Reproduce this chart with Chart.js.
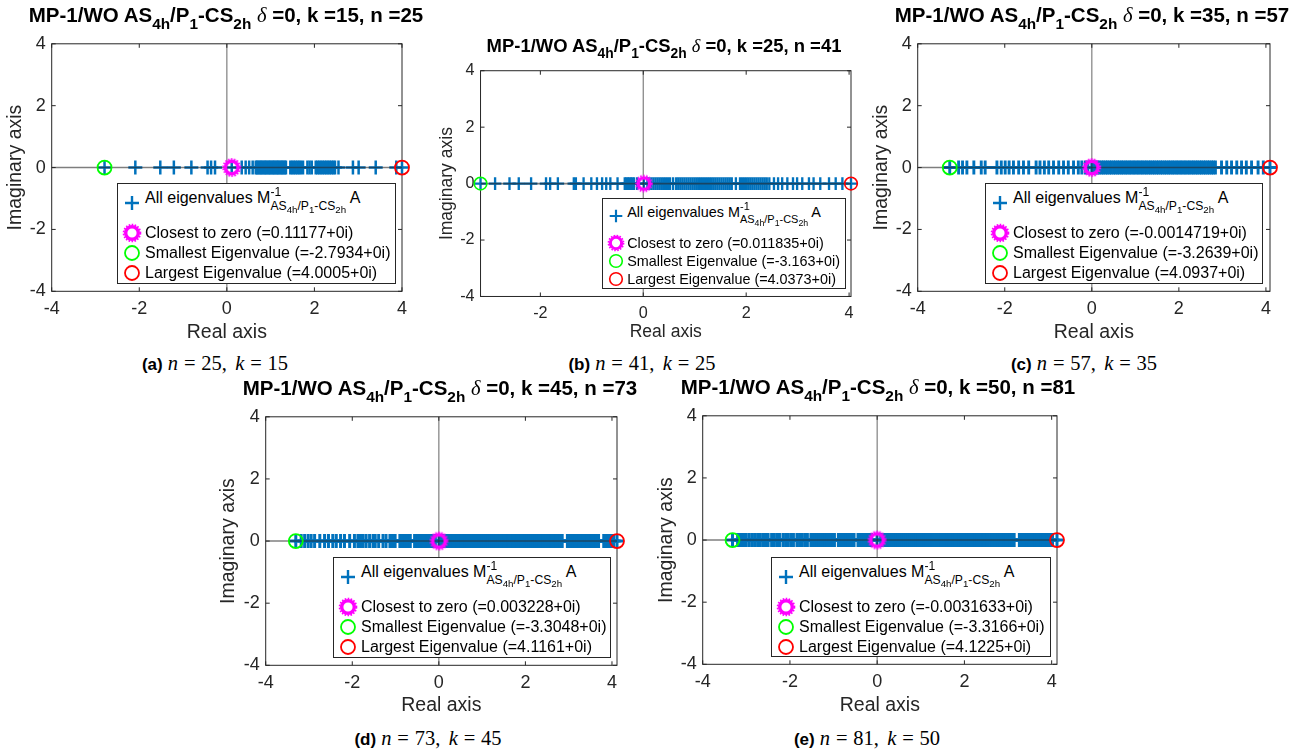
<!doctype html>
<html lang="en">
<head>
<meta charset="utf-8">
<title>Eigenvalues of the preconditioned operator</title>
<script src="https://cdn.jsdelivr.net/npm/chart.js"></script>
<style>
  body { margin: 0; background: #fff; font-family: "Liberation Sans", Arial, sans-serif; color: #000; }
  #fig { position: relative; width: 1307px; height: 756px; overflow: hidden; }
  #fig canvas { position: absolute; }
  .ttl, .cap { position: absolute; white-space: nowrap; transform: translate(-50%, -50%); line-height: 1; }
  .ttl { font-weight: bold; color: #000; }
  .ttl sub { font-size: 0.75em; vertical-align: -0.45em; line-height: 0; }
  .ttl .d { font-family: "Liberation Serif", serif; font-style: italic; font-weight: normal; }
  .cap { font-family: "Liberation Serif", serif; font-size: 20.5px; }
  .cap b { font-family: "Liberation Sans", sans-serif; font-size: 17px; margin-right: 0.3em; }
  .cap .eq { display: inline-block; width: 0.7em; text-align: center; margin: 0 0.22em; }
  .cap .cm { margin-right: 0.4em; }
  .leg { position: absolute; background: #fff; border: 1px solid #262626; box-sizing: border-box; white-space: nowrap; }
  .leg .row { position: absolute; }
  .ss { position: relative; display: inline-block; }
  .lo { font-size: 0.76em; position: relative; top: 0.55em; }
  .lo2 { font-size: 0.8em; position: relative; top: 0.35em; }
  .hi { position: absolute; left: 0; top: -0.5em; font-size: 0.76em; }
</style>
</head>
<body>
<div id="fig"></div>
<script>
// one entry per panel
const panelTags = ['a', 'b', 'c', 'd', 'e'];
const kVals = [15, 25, 35, 45, 50];
const nVals = [25, 41, 57, 73, 81];
const deltaVals = [0, 0, 0, 0, 0];
const closestVals = [0.11177, 0.011835, -0.0014719, 0.003228, -0.0031633];
const smallestVals = [-2.7934, -3.163, -3.2639, -3.3048, -3.3166];
const largestVals = [4.0005, 4.0373, 4.0937, 4.1161, 4.1225];
const xMins = [-4, -3.163, -4, -4, -4];
const xTickVals = [-4, -2, 0, 2, 4];
const yTickVals = [-4, -2, 0, 2, 4];

// remaining (real) eigenvalues of each spectrum, imaginary part 0
const eigA = [-2.09, -1.52, -1.21, -0.81, -0.44, -0.36, -0.27,
  0.34, 0.43, 0.51, 0.59, 0.66, 0.69, 0.72, 0.75, 0.78, 0.81, 0.84, 0.87, 0.90, 0.93, 0.96, 0.99,
  1.02, 1.05, 1.08, 1.11, 1.14, 1.17, 1.20, 1.23, 1.26, 1.29, 1.32, 1.35,
  1.45, 1.49, 1.53, 1.57, 1.61, 1.65, 1.69, 1.74, 1.84, 1.89, 1.94,
  2.03, 2.07, 2.11, 2.15, 2.19, 2.23, 2.27, 2.31, 2.35, 2.39, 2.43, 2.47, 2.55, 2.88, 3.01, 3.40, 3.87];
const eigB = [-2.88, -2.60, -2.42, -2.18, -1.89, -1.81, -1.66, -1.35, -1.31, -1.16, -1.01, -0.90, -0.80, -0.72, -0.64, -0.50,
  -0.36, -0.33, -0.30, -0.27, -0.24, -0.21, -0.18, -0.12,
  0.08, 0.12, 0.16, 0.20, 0.24, 0.28, 0.32, 0.36, 0.40, 0.44, 0.48, 0.52, 0.58, 0.64, 0.68, 0.72, 0.76, 0.80,
  0.84, 0.88, 0.92, 0.96, 1.00, 1.04, 1.08, 1.12, 1.16, 1.20, 1.24, 1.28, 1.32, 1.36, 1.40, 1.44, 1.48, 1.52,
  1.56, 1.60, 1.64, 1.68, 1.72, 1.80, 1.88, 1.92, 1.96, 2.00, 2.04, 2.08, 2.12, 2.16, 2.20, 2.24, 2.28, 2.32,
  2.36, 2.40, 2.45, 2.54, 2.62, 2.70, 2.80, 2.91, 2.99, 3.09, 3.22, 3.31, 3.44, 3.61, 3.74, 3.87];
const eigC = [-3.06, -2.97, -2.87, -2.71, -2.54, -2.45, -2.18, -2.08, -1.99, -1.90, -1.80, -1.68, -1.57, -1.45,
  -1.28, -1.19, -1.09, -0.99, -0.88, -0.76, -0.65, -0.54, -0.42, -0.31, -0.23, -0.15, -0.09,
  0.05, 0.09, 0.14, 0.18, 0.23, 0.27, 0.32, 0.36, 0.41, 0.45, 0.50, 0.54, 0.59, 0.63, 0.68, 0.72, 0.77, 0.81,
  0.86, 0.90, 0.95, 0.99, 1.04, 1.08, 1.13, 1.17, 1.22, 1.26, 1.31, 1.35, 1.40, 1.44, 1.49, 1.53, 1.58, 1.62,
  1.67, 1.71, 1.76, 1.80, 1.85, 1.89, 1.94, 1.98, 2.03, 2.07, 2.12, 2.16, 2.21, 2.25, 2.30, 2.34, 2.39, 2.43,
  2.48, 2.52, 2.57, 2.61, 2.66, 2.70, 2.75, 2.79, 2.84, 2.98, 3.10, 3.21, 3.33, 3.44, 3.55, 3.67, 3.82, 3.94];
const eigD = [-3.18, -3.10, -3.02, -2.95, -2.87, -2.75, -2.64, -2.55, -2.45, -2.37, -2.27, -2.18, -2.06, -1.95,
  -1.87, -1.81, -1.75, -1.68, -1.60, -1.52, -1.47, -1.39, -1.29, -1.22, -1.13, -1.09, -1.05, -1.01, -0.90,
  -0.86, -0.82, -0.78, -0.74, -0.70, -0.66, -0.56, -0.52, -0.48, -0.44, -0.40, -0.36, -0.32, -0.28, -0.24,
  -0.20, -0.16, -0.12, -0.08,
  0.06, 0.10, 0.15, 0.19, 0.24, 0.28, 0.33, 0.37, 0.42, 0.46, 0.51, 0.55, 0.60, 0.64, 0.69, 0.73, 0.78, 0.82,
  0.87, 0.91, 0.96, 1.00, 1.05, 1.09, 1.14, 1.18, 1.23, 1.27, 1.32, 1.36, 1.41, 1.45, 1.50, 1.54, 1.59, 1.63,
  1.68, 1.72, 1.77, 1.81, 1.86, 1.90, 1.95, 1.99, 2.04, 2.08, 2.13, 2.17, 2.22, 2.26, 2.31, 2.35, 2.40, 2.44,
  2.49, 2.53, 2.58, 2.62, 2.67, 2.71, 2.76, 2.80, 2.85, 2.97, 3.01, 3.06, 3.10, 3.15, 3.19, 3.24, 3.28, 3.33,
  3.37, 3.42, 3.46, 3.51, 3.55, 3.60, 3.64, 3.69, 3.81, 3.85, 3.90, 3.94, 3.99, 4.04];
const eigE = [-3.20, -3.15, -3.10, -3.05, -3.00, -2.93, -2.86, -2.80, -2.74, -2.68, -2.62, -2.56, -2.50, -2.42,
  -2.36, -2.30, -2.24, -2.16, -2.10, -2.04, -1.98, -1.92, -1.84, -1.78, -1.72, -1.66, -1.60, -1.52, -1.47,
  -1.43, -1.38, -1.34, -1.29, -1.25, -1.20, -1.16, -1.11, -1.07, -1.02, -0.98, -0.89, -0.85, -0.80, -0.76,
  -0.71, -0.67, -0.62, -0.58, -0.53, -0.44, -0.40, -0.35, -0.31, -0.26, -0.22, -0.17, -0.13,
  0.08, 0.12, 0.17, 0.21, 0.26, 0.30, 0.35, 0.39, 0.44, 0.48, 0.53, 0.57, 0.62, 0.66, 0.71, 0.75, 0.80, 0.84,
  0.89, 0.93, 0.98, 1.02, 1.07, 1.11, 1.16, 1.20, 1.25, 1.29, 1.34, 1.38, 1.43, 1.47, 1.52, 1.56, 1.61, 1.65,
  1.70, 1.74, 1.79, 1.83, 1.88, 1.92, 1.97, 2.01, 2.06, 2.10, 2.15, 2.19, 2.24, 2.28, 2.33, 2.37, 2.42, 2.46,
  2.51, 2.55, 2.60, 2.64, 2.69, 2.73, 2.78, 2.82, 2.87, 2.91, 2.96, 3.00, 3.05, 3.09, 3.14, 3.26, 3.30, 3.35,
  3.39, 3.44, 3.48, 3.53, 3.57, 3.62, 3.66, 3.71, 3.75, 3.80, 3.84, 3.89, 3.93, 3.98, 4.02];
const eigLists = [eigA, eigB, eigC, eigD, eigE];

// where each panel sits on the page: plot box [l, t, r, b], title / caption centres,
// axis label offsets from the box, legend box, font scale and plus stroke width
const layout = [
  { plot: [52, 41, 402, 291], title: [226, 15], cap: [215, 363], yOff: 36, xOff: 41, leg: [117, 183, 396, 284], s: 1, lw: 2.5 },
  { plot: [481, 69, 851, 296], title: [664, 46], cap: [642, 363], yOff: 33, xOff: 36, leg: [602, 198, 846, 289], s: 0.9, lw: 2.6 },
  { plot: [918, 41, 1270, 291], title: [1092, 15], cap: [1084, 363], yOff: 36, xOff: 41, leg: [985, 183, 1263, 284], s: 1, lw: 2.9 },
  { plot: [266, 414, 617, 665], title: [440, 388], cap: [428, 738], yOff: 37, xOff: 40, leg: [333, 557, 611, 658], s: 1, lw: 3 },
  { plot: [703, 413, 1057, 664], title: [878, 387], cap: [867, 738], yOff: 36, xOff: 41, leg: [771, 557, 1051, 657], s: 1, lw: 3 }
];

const BLUE = '#0072BD', GREEN = '#00FF00', RED = '#FF0000', MAGENTA = '#FF00FF';
const AXIS = '#262626';
const fig = document.getElementById('fig');

// thick dotted ring used for the "closest to zero" marker
function ringMarker(r) {
  const size = Math.ceil(2 * r + 10);
  const c = document.createElement('canvas');
  c.width = c.height = size;
  const g = c.getContext('2d');
  g.strokeStyle = MAGENTA;
  g.lineWidth = 3.4;
  g.beginPath(); g.arc(size / 2, size / 2, r, 0, Math.PI * 2); g.stroke();
  g.lineWidth = 1.8;
  g.setLineDash([1.6, 1.4]);
  g.beginPath(); g.arc(size / 2, size / 2, r + 2.2, 0, Math.PI * 2); g.stroke();
  return c;
}

// MATLAB-style box with inward tick marks
const axesBox = {
  id: 'axesBox',
  beforeDatasetsDraw(chart) {
    const { ctx, chartArea: { left, right, top, bottom }, scales: { x, y } } = chart;
    ctx.save();
    ctx.strokeStyle = AXIS;
    ctx.lineWidth = 1;
    ctx.strokeRect(left, top, right - left, bottom - top);
    ctx.beginPath();
    x.ticks.forEach(t => {
      const px = x.getPixelForValue(t.value);
      ctx.moveTo(px, bottom); ctx.lineTo(px, bottom - 4);
      ctx.moveTo(px, top); ctx.lineTo(px, top + 4);
    });
    y.ticks.forEach(t => {
      const py = y.getPixelForValue(t.value);
      ctx.moveTo(left, py); ctx.lineTo(left + 4, py);
      ctx.moveTo(right, py); ctx.lineTo(right - 4, py);
    });
    ctx.stroke();
    ctx.restore();
  }
};

function svgMarker(kind, s) {
  const w = 20 * s, c = w / 2;
  let body;
  if (kind === 'plus') {
    const r = 7 * s;
    body = `<path d="M${c - r} ${c}H${c + r}M${c} ${c - r}V${c + r}" stroke="${BLUE}" stroke-width="${2.4 * s}"/>`;
  } else if (kind === 'ring') {
    body = `<circle cx="${c}" cy="${c}" r="${6.3 * s}" fill="none" stroke="${MAGENTA}" stroke-width="${3.4 * s}"/>` +
      `<circle cx="${c}" cy="${c}" r="${8.4 * s}" fill="none" stroke="${MAGENTA}" stroke-width="${1.8 * s}" stroke-dasharray="1.6 1.4"/>`;
  } else {
    body = `<circle cx="${c}" cy="${c}" r="${7 * s}" fill="none" stroke="${kind}" stroke-width="${1.8 * s}"/>`;
  }
  return `<svg width="${w}" height="${w}" viewBox="0 0 ${w} ${w}">${body}</svg>`;
}

function addLegend(i) {
  const L = layout[i], s = L.s;
  const [l, t, r, b] = L.leg;
  const leg = document.createElement('div');
  leg.className = 'leg';
  Object.assign(leg.style, { left: l + 'px', top: t + 'px', width: (r - l) + 'px', height: (b - t) + 'px', fontSize: (16 * s) + 'px' });
  const mx = 15 * s, tx = 28 * s, half = 10 * s, lh = 20 * s;
  const rows = [
    { kind: 'plus', cy: 20 * s, ty: 15 * s,
      html: 'All eigenvalues M<span class="ss"><span class="lo">AS<span class="lo2">4h</span>/P<span class="lo2">1</span>-CS<span class="lo2">2h</span></span><span class="hi">-1</span></span> A' },
    { kind: 'ring', cy: 50 * s, ty: 50 * s, html: `Closest to zero (=${closestVals[i]}+0i)` },
    { kind: GREEN, cy: 70 * s, ty: 70 * s, html: `Smallest Eigenvalue (=${smallestVals[i]}+0i)` },
    { kind: RED, cy: 90 * s, ty: 90 * s, html: `Largest Eigenvalue (=${largestVals[i]}+0i)` }
  ];
  let html = '';
  rows.forEach(row => {
    html += `<div style="position:absolute;left:${mx - half - 1}px;top:${row.cy - half - 1}px;line-height:0">${svgMarker(row.kind, s)}</div>`;
    html += `<div class="row" style="left:${tx - 1}px;top:${row.ty - lh / 2 - 1}px;line-height:${lh}px">${row.html}</div>`;
  });
  leg.innerHTML = html;
  fig.appendChild(leg);
}

function addPanel(i) {
  const L = layout[i], s = L.s;
  const [pl, pt, pr, pb] = L.plot;
  const tickSize = 18 * s, labelSize = 19.5 * s;
  const yW = L.yOff + labelSize * 0.6;
  const xH = L.xOff + labelSize * 0.6;
  const padT = 14, padR = 14;

  const canvas = document.createElement('canvas');
  const cw = Math.round(pr - pl + yW + padR), ch = Math.round(pb - pt + padT + xH);
  canvas.width = cw; canvas.height = ch;
  Object.assign(canvas.style, { left: (pl - yW) + 'px', top: (pt - padT) + 'px', width: cw + 'px', height: ch + 'px' });
  fig.appendChild(canvas);

  const xMin = xMins[i], xMax = largestVals[i];
  const pts = [smallestVals[i], ...eigLists[i], closestVals[i], largestVals[i]].map(v => ({ x: v, y: 0 }));

  new Chart(canvas, {
    type: 'scatter',
    data: {
      datasets: [
        { data: [{ x: closestVals[i], y: 0 }], pointStyle: ringMarker(6.3 * s), clip: false },
        { data: [{ x: smallestVals[i], y: 0 }], pointStyle: 'circle', pointRadius: 7 * s, borderWidth: 1.8 * s,
          borderColor: GREEN, backgroundColor: 'rgba(0,0,0,0)', clip: false },
        { data: [{ x: largestVals[i], y: 0 }], pointStyle: 'circle', pointRadius: 7 * s, borderWidth: 1.8 * s,
          borderColor: RED, backgroundColor: 'rgba(0,0,0,0)', clip: false },
        { data: [{ x: xMin, y: 0 }, { x: xMax, y: 0 }], showLine: true, pointRadius: 0,
          borderColor: 'rgba(40,40,40,0.6)', borderWidth: 1.6 },
        { data: [{ x: 0, y: -4 }, { x: 0, y: 4 }], showLine: true, pointRadius: 0,
          borderColor: 'rgba(40,40,40,0.55)', borderWidth: 1.3 },
        { data: pts, pointStyle: 'cross', pointRadius: 7 * s, borderWidth: L.lw * s,
          borderColor: BLUE, backgroundColor: BLUE, clip: false }
      ]
    },
    options: {
      responsive: false,
      animation: false,
      events: [],
      layout: { padding: { top: padT, right: padR, left: 0, bottom: 0 } },
      plugins: { legend: { display: false }, tooltip: { enabled: false } },
      scales: {
        x: {
          type: 'linear', min: xMin, max: xMax,
          afterBuildTicks: sc => { sc.ticks = xTickVals.filter(v => v >= sc.min - 1e-9 && v <= sc.max + 1e-9).map(v => ({ value: v })); },
          afterFit: sc => { sc.height = xH; },
          grid: { display: false, drawTicks: false },
          border: { display: false },
          ticks: { color: AXIS, padding: 7, maxRotation: 0, autoSkip: false,
            font: { family: 'Liberation Sans', size: tickSize } },
          title: { display: true, text: 'Real axis', color: AXIS, padding: 0,
            font: { family: 'Liberation Sans', size: labelSize } }
        },
        y: {
          type: 'linear', min: -4, max: 4,
          afterBuildTicks: sc => { sc.ticks = yTickVals.map(v => ({ value: v })); },
          afterFit: sc => { sc.width = yW; },
          grid: { display: false, drawTicks: false },
          border: { display: false },
          ticks: { color: AXIS, padding: 6, autoSkip: false,
            font: { family: 'Liberation Sans', size: tickSize } },
          title: { display: true, text: 'Imaginary axis', color: AXIS, padding: 0,
            font: { family: 'Liberation Sans', size: labelSize } }
        }
      }
    },
    plugins: [axesBox]
  });

  const ttl = document.createElement('div');
  ttl.className = 'ttl';
  Object.assign(ttl.style, { left: L.title[0] + 'px', top: L.title[1] + 'px', fontSize: (20.5 * s) + 'px' });
  ttl.innerHTML = `MP-1/WO AS<sub>4h</sub>/P<sub>1</sub>-CS<sub>2h</sub> <span class="d">δ</span> =${deltaVals[i]}, k =${kVals[i]}, n =${nVals[i]}`;
  fig.appendChild(ttl);

  const cap = document.createElement('div');
  cap.className = 'cap';
  Object.assign(cap.style, { left: L.cap[0] + 'px', top: L.cap[1] + 'px' });
  cap.innerHTML = `<b>(${panelTags[i]})</b><i>n</i><span class="eq">=</span>${nVals[i]}<span class="cm">,</span><i>k</i><span class="eq">=</span>${kVals[i]}`;
  fig.appendChild(cap);

  addLegend(i);
}

panelTags.forEach((_, i) => addPanel(i));
</script>
</body>
</html>
